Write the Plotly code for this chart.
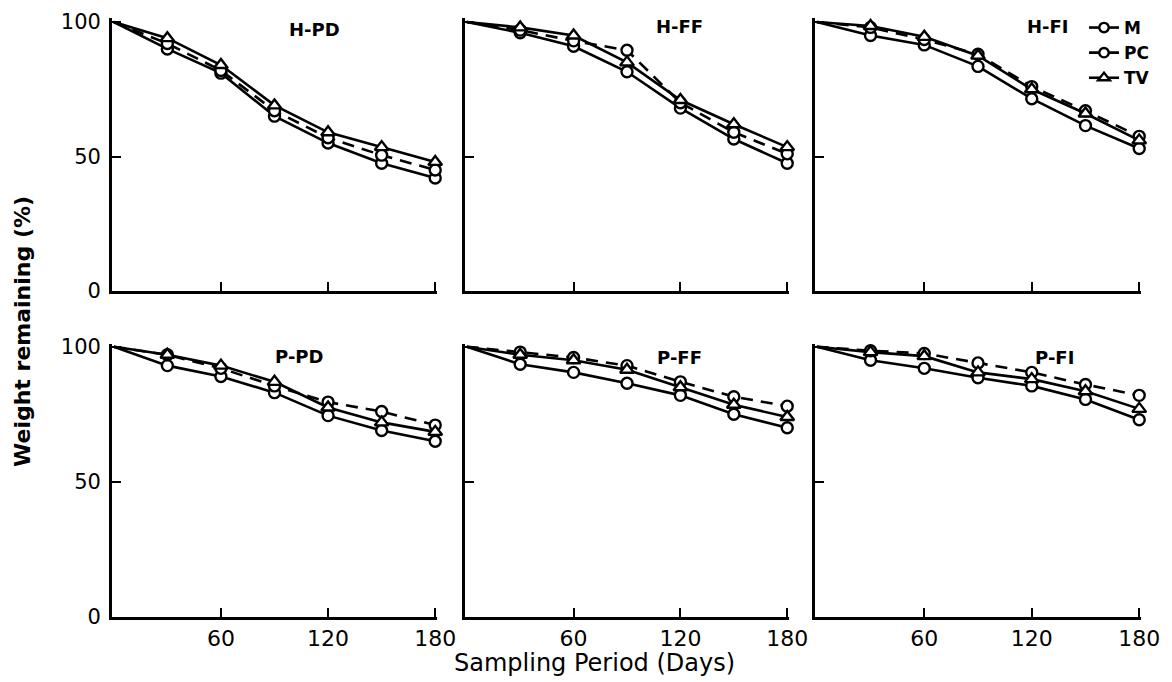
import plotly.graph_objects as go

days = [0, 30, 60, 90, 120, 150, 180]
panel_names = ["H-PD", "H-FF", "H-FI", "P-PD", "P-FF", "P-FI"]

# Weight remaining (%) per panel, per series
M_vals = {
    "H-PD": [100, 90, 81, 65, 55, 47.5, 42],
    "H-FF": [100, 96, 91, 81.5, 68, 56.5, 47.5],
    "H-FI": [100, 95, 91.5, 83.5, 71.5, 61.5, 53],
    "P-PD": [100, 93, 89, 83, 74.5, 69, 65],
    "P-FF": [100, 93.5, 90.5, 86.5, 82, 75, 70],
    "P-FI": [100, 95, 92, 88.5, 85.5, 80.5, 73],
}
PC_vals = {
    "H-PD": [100, 92, 82, 67, 57, 50.5, 45],
    "H-FF": [100, 97, 93, 89.5, 70, 59, 51],
    "H-FI": [100, 98, 93.5, 88, 76, 67, 57.5],
    "P-PD": [100, 97, 92, 85.5, 79.5, 76, 71],
    "P-FF": [100, 98, 96, 93, 87, 81.5, 78],
    "P-FI": [100, 98.5, 97.5, 94, 90.5, 86, 82],
}
TV_vals = {
    "H-PD": [100, 94, 84, 69, 59, 53.5, 48],
    "H-FF": [100, 98, 95, 85, 71, 62, 53.5],
    "H-FI": [100, 98.5, 94.5, 87.5, 75, 66, 56],
    "P-PD": [100, 97, 93, 87, 77.5, 72, 68.5],
    "P-FF": [100, 97, 95, 91.5, 85, 78.5, 74],
    "P-FI": [100, 98, 96.5, 90.5, 88, 83.5, 77],
}

x_ticks = [60, 120, 180]
y_ticks = [0, 50, 100]

W, H = 1172, 682
col_px = [(112, 437), (465, 789), (815, 1141)]
row_px = [(18, 291), (344, 617)]
y_ranges = [[0, 101.5], [0, 101]]
label_px = [(314, 30), (679, 27), (1048, 27), (299, 356), (679, 357), (1054, 357)]

fig = go.Figure()
layout_axes = {}
annotations = []
for i, name in enumerate(panel_names):
    r, c = divmod(i, 3)
    idx = i + 1
    xa = "x" if idx == 1 else f"x{idx}"
    ya = "y" if idx == 1 else f"y{idx}"
    series = [
        ("M", M_vals[name], "solid", "circle", 11),
        ("PC", PC_vals[name], "12px,8px", "circle", 11),
        ("TV", TV_vals[name], "solid", "triangle-up", 12),
    ]
    for sname, vals, dash, sym, msize in series:
        sizes = [0] + [msize] * (len(days) - 1)   # no marker drawn at day 0
        fig.add_trace(go.Scatter(
            x=days, y=vals, xaxis=xa, yaxis=ya, mode="lines+markers",
            name=sname, showlegend=(i == 0), legendrank={"M": 1, "PC": 2, "TV": 3}[sname],
            line=dict(color="black", width=2.6, dash=dash),
            marker=dict(symbol=sym, size=sizes, opacity=1,
                        color="white", line=dict(color="black", width=2.4)),
            cliponaxis=False,
        ))
    x0, x1 = col_px[c]
    t, b = row_px[r]
    layout_axes["xaxis" if idx == 1 else f"xaxis{idx}"] = dict(
        domain=[x0 / W, x1 / W], range=[-1, 181], anchor=ya,
        tickmode="array", tickvals=x_ticks, showticklabels=(r == 1),
        ticks="inside", ticklen=9, tickwidth=2.4, tickcolor="black",
        showline=True, linewidth=2.8, linecolor="black", mirror=False,
        showgrid=False, zeroline=False, automargin=False,
        tickfont=dict(family="DejaVu Sans", size=22, color="black"),
    )
    layout_axes["yaxis" if idx == 1 else f"yaxis{idx}"] = dict(
        domain=[1 - b / H, 1 - t / H], range=y_ranges[r], anchor=xa,
        tickmode="array", tickvals=y_ticks, showticklabels=(c == 0),
        ticks="inside", ticklen=9, tickwidth=2.4, tickcolor="black",
        showline=True, linewidth=2.8, linecolor="black", mirror=False,
        showgrid=False, zeroline=False, ticklabelstandoff=4, automargin=False,
        tickfont=dict(family="DejaVu Sans", size=21, color="black"),
    )
    lx, ly = label_px[i]
    annotations.append(dict(
        text=name, x=lx / W, y=1 - ly / H, xref="paper", yref="paper",
        showarrow=False, xanchor="center", yanchor="middle",
        font=dict(family="DejaVu Sans", size=18, color="black", weight="bold"),
    ))

annotations.append(dict(
    text="Sampling Period (Days)", x=595 / W, y=1 - 663 / H, xref="paper", yref="paper",
    showarrow=False, xanchor="center", yanchor="middle",
    font=dict(family="DejaVu Sans", size=24, color="black"),
))
annotations.append(dict(
    text="Weight remaining (%)", x=22 / W, y=1 - 332 / H, xref="paper", yref="paper",
    showarrow=False, xanchor="center", yanchor="middle", textangle=-90,
    font=dict(family="DejaVu Sans", size=22, color="black", weight="bold"),
))

fig.update_layout(
    width=W, height=H, margin=dict(l=0, r=0, t=0, b=0, pad=0, autoexpand=False),
    paper_bgcolor="white", plot_bgcolor="white",
    annotations=annotations,
    showlegend=True,
    legend=dict(x=1084 / W, y=1 - 10 / H, xanchor="left", yanchor="top",
                bgcolor="rgba(0,0,0,0)", itemwidth=30, tracegroupgap=0,
                font=dict(family="DejaVu Sans", size=17, color="black", weight="bold")),
    **layout_axes,
)
fig.write_html("out.html")
